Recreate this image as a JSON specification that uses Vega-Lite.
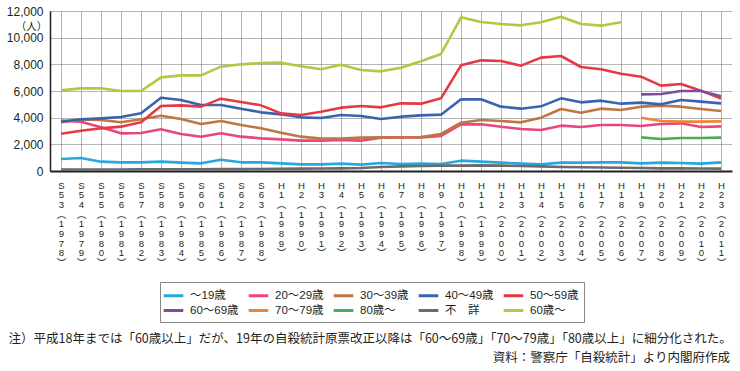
{
"$schema":"https://vega.github.io/schema/vega-lite/v6.json",
"width":682,"height":160,
"autosize":{"type":"none"},
"padding":{"left":50,"top":11,"right":8,"bottom":200},
"background":"#ffffff",
"config":{"view":{"stroke":null},"font":"Noto Sans CJK JP","axis":{"labelColor":"#231f20","titleColor":"#231f20"}},
"title":{"text":"資料：警察庁「自殺統計」より内閣府作成","orient":"bottom","anchor":"end","frame":"group","fontSize":12.5,"fontWeight":"normal","color":"#231f20","offset":7,"dx":-2,"font":"Noto Sans CJK JP"},
"data":{"values":[
{"period":"S53(1978)","group":"〜19歳","value":900},{"period":"S54(1979)","group":"〜19歳","value":975},{"period":"S55(1980)","group":"〜19歳","value":700},{"period":"S56(1981)","group":"〜19歳","value":650},{"period":"S57(1982)","group":"〜19歳","value":650},{"period":"S58(1983)","group":"〜19歳","value":700},{"period":"S59(1984)","group":"〜19歳","value":625},{"period":"S60(1985)","group":"〜19歳","value":575},{"period":"S61(1986)","group":"〜19歳","value":850},{"period":"S62(1987)","group":"〜19歳","value":650},{"period":"S63(1988)","group":"〜19歳","value":650},{"period":"H1(1989)","group":"〜19歳","value":575},{"period":"H2(1990)","group":"〜19歳","value":500},{"period":"H3(1991)","group":"〜19歳","value":500},{"period":"H4(1992)","group":"〜19歳","value":550},{"period":"H5(1993)","group":"〜19歳","value":475},{"period":"H6(1994)","group":"〜19歳","value":600},{"period":"H7(1995)","group":"〜19歳","value":525},{"period":"H8(1996)","group":"〜19歳","value":550},{"period":"H9(1997)","group":"〜19歳","value":525},{"period":"H10(1998)","group":"〜19歳","value":775},{"period":"H11(1999)","group":"〜19歳","value":700},{"period":"H12(2000)","group":"〜19歳","value":625},{"period":"H13(2001)","group":"〜19歳","value":550},{"period":"H14(2002)","group":"〜19歳","value":500},{"period":"H15(2003)","group":"〜19歳","value":625},{"period":"H16(2004)","group":"〜19歳","value":625},{"period":"H17(2005)","group":"〜19歳","value":650},{"period":"H18(2006)","group":"〜19歳","value":650},{"period":"H19(2007)","group":"〜19歳","value":575},{"period":"H20(2008)","group":"〜19歳","value":625},{"period":"H21(2009)","group":"〜19歳","value":600},{"period":"H22(2010)","group":"〜19歳","value":550},{"period":"H23(2011)","group":"〜19歳","value":650},
{"period":"S53(1978)","group":"20〜29歳","value":3775},{"period":"S54(1979)","group":"20〜29歳","value":3700},{"period":"S55(1980)","group":"20〜29歳","value":3275},{"period":"S56(1981)","group":"20〜29歳","value":2825},{"period":"S57(1982)","group":"20〜29歳","value":2850},{"period":"S58(1983)","group":"20〜29歳","value":3125},{"period":"S59(1984)","group":"20〜29歳","value":2775},{"period":"S60(1985)","group":"20〜29歳","value":2575},{"period":"S61(1986)","group":"20〜29歳","value":2825},{"period":"S62(1987)","group":"20〜29歳","value":2575},{"period":"S63(1988)","group":"20〜29歳","value":2450},{"period":"H1(1989)","group":"20〜29歳","value":2375},{"period":"H2(1990)","group":"20〜29歳","value":2275},{"period":"H3(1991)","group":"20〜29歳","value":2275},{"period":"H4(1992)","group":"20〜29歳","value":2325},{"period":"H5(1993)","group":"20〜29歳","value":2275},{"period":"H6(1994)","group":"20〜29歳","value":2500},{"period":"H7(1995)","group":"20〜29歳","value":2525},{"period":"H8(1996)","group":"20〜29歳","value":2525},{"period":"H9(1997)","group":"20〜29歳","value":2625},{"period":"H10(1998)","group":"20〜29歳","value":3500},{"period":"H11(1999)","group":"20〜29歳","value":3500},{"period":"H12(2000)","group":"20〜29歳","value":3325},{"period":"H13(2001)","group":"20〜29歳","value":3150},{"period":"H14(2002)","group":"20〜29歳","value":3075},{"period":"H15(2003)","group":"20〜29歳","value":3400},{"period":"H16(2004)","group":"20〜29歳","value":3300},{"period":"H17(2005)","group":"20〜29歳","value":3450},{"period":"H18(2006)","group":"20〜29歳","value":3450},{"period":"H19(2007)","group":"20〜29歳","value":3375},{"period":"H20(2008)","group":"20〜29歳","value":3525},{"period":"H21(2009)","group":"20〜29歳","value":3575},{"period":"H22(2010)","group":"20〜29歳","value":3300},{"period":"H23(2011)","group":"20〜29歳","value":3350},
{"period":"S53(1978)","group":"30〜39歳","value":3650},{"period":"S54(1979)","group":"30〜39歳","value":3875},{"period":"S55(1980)","group":"30〜39歳","value":3825},{"period":"S56(1981)","group":"30〜39歳","value":3650},{"period":"S57(1982)","group":"30〜39歳","value":3875},{"period":"S58(1983)","group":"30〜39歳","value":4150},{"period":"S59(1984)","group":"30〜39歳","value":3900},{"period":"S60(1985)","group":"30〜39歳","value":3525},{"period":"S61(1986)","group":"30〜39歳","value":3750},{"period":"S62(1987)","group":"30〜39歳","value":3450},{"period":"S63(1988)","group":"30〜39歳","value":3200},{"period":"H1(1989)","group":"30〜39歳","value":2875},{"period":"H2(1990)","group":"30〜39歳","value":2575},{"period":"H3(1991)","group":"30〜39歳","value":2425},{"period":"H4(1992)","group":"30〜39歳","value":2425},{"period":"H5(1993)","group":"30〜39歳","value":2500},{"period":"H6(1994)","group":"30〜39歳","value":2525},{"period":"H7(1995)","group":"30〜39歳","value":2525},{"period":"H8(1996)","group":"30〜39歳","value":2550},{"period":"H9(1997)","group":"30〜39歳","value":2775},{"period":"H10(1998)","group":"30〜39歳","value":3625},{"period":"H11(1999)","group":"30〜39歳","value":3825},{"period":"H12(2000)","group":"30〜39歳","value":3750},{"period":"H13(2001)","group":"30〜39歳","value":3650},{"period":"H14(2002)","group":"30〜39歳","value":4000},{"period":"H15(2003)","group":"30〜39歳","value":4650},{"period":"H16(2004)","group":"30〜39歳","value":4375},{"period":"H17(2005)","group":"30〜39歳","value":4675},{"period":"H18(2006)","group":"30〜39歳","value":4575},{"period":"H19(2007)","group":"30〜39歳","value":4825},{"period":"H20(2008)","group":"30〜39歳","value":4900},{"period":"H21(2009)","group":"30〜39歳","value":4825},{"period":"H22(2010)","group":"30〜39歳","value":4650},{"period":"H23(2011)","group":"30〜39歳","value":4500},
{"period":"S53(1978)","group":"40〜49歳","value":3700},{"period":"S54(1979)","group":"40〜49歳","value":3875},{"period":"S55(1980)","group":"40〜49歳","value":3950},{"period":"S56(1981)","group":"40〜49歳","value":4050},{"period":"S57(1982)","group":"40〜49歳","value":4325},{"period":"S58(1983)","group":"40〜49歳","value":5500},{"period":"S59(1984)","group":"40〜49歳","value":5325},{"period":"S60(1985)","group":"40〜49歳","value":4950},{"period":"S61(1986)","group":"40〜49歳","value":4950},{"period":"S62(1987)","group":"40〜49歳","value":4675},{"period":"S63(1988)","group":"40〜49歳","value":4400},{"period":"H1(1989)","group":"40〜49歳","value":4250},{"period":"H2(1990)","group":"40〜49歳","value":4025},{"period":"H3(1991)","group":"40〜49歳","value":3975},{"period":"H4(1992)","group":"40〜49歳","value":4200},{"period":"H5(1993)","group":"40〜49歳","value":4125},{"period":"H6(1994)","group":"40〜49歳","value":3900},{"period":"H7(1995)","group":"40〜49歳","value":4075},{"period":"H8(1996)","group":"40〜49歳","value":4175},{"period":"H9(1997)","group":"40〜49歳","value":4225},{"period":"H10(1998)","group":"40〜49歳","value":5375},{"period":"H11(1999)","group":"40〜49歳","value":5375},{"period":"H12(2000)","group":"40〜49歳","value":4825},{"period":"H13(2001)","group":"40〜49歳","value":4675},{"period":"H14(2002)","group":"40〜49歳","value":4850},{"period":"H15(2003)","group":"40〜49歳","value":5450},{"period":"H16(2004)","group":"40〜49歳","value":5150},{"period":"H17(2005)","group":"40〜49歳","value":5275},{"period":"H18(2006)","group":"40〜49歳","value":5050},{"period":"H19(2007)","group":"40〜49歳","value":5125},{"period":"H20(2008)","group":"40〜49歳","value":5000},{"period":"H21(2009)","group":"40〜49歳","value":5325},{"period":"H22(2010)","group":"40〜49歳","value":5200},{"period":"H23(2011)","group":"40〜49歳","value":5075},
{"period":"S53(1978)","group":"50〜59歳","value":2800},{"period":"S54(1979)","group":"50〜59歳","value":3025},{"period":"S55(1980)","group":"50〜59歳","value":3200},{"period":"S56(1981)","group":"50〜59歳","value":3325},{"period":"S57(1982)","group":"50〜59歳","value":3650},{"period":"S58(1983)","group":"50〜59歳","value":4875},{"period":"S59(1984)","group":"50〜59歳","value":4925},{"period":"S60(1985)","group":"50〜59歳","value":4825},{"period":"S61(1986)","group":"50〜59歳","value":5425},{"period":"S62(1987)","group":"50〜59歳","value":5175},{"period":"S63(1988)","group":"50〜59歳","value":4925},{"period":"H1(1989)","group":"50〜59歳","value":4325},{"period":"H2(1990)","group":"50〜59歳","value":4200},{"period":"H3(1991)","group":"50〜59歳","value":4450},{"period":"H4(1992)","group":"50〜59歳","value":4750},{"period":"H5(1993)","group":"50〜59歳","value":4875},{"period":"H6(1994)","group":"50〜59歳","value":4775},{"period":"H7(1995)","group":"50〜59歳","value":5075},{"period":"H8(1996)","group":"50〜59歳","value":5050},{"period":"H9(1997)","group":"50〜59歳","value":5450},{"period":"H10(1998)","group":"50〜59歳","value":7925},{"period":"H11(1999)","group":"50〜59歳","value":8300},{"period":"H12(2000)","group":"50〜59歳","value":8250},{"period":"H13(2001)","group":"50〜59歳","value":7900},{"period":"H14(2002)","group":"50〜59歳","value":8500},{"period":"H15(2003)","group":"50〜59歳","value":8625},{"period":"H16(2004)","group":"50〜59歳","value":7800},{"period":"H17(2005)","group":"50〜59歳","value":7625},{"period":"H18(2006)","group":"50〜59歳","value":7300},{"period":"H19(2007)","group":"50〜59歳","value":7075},{"period":"H20(2008)","group":"50〜59歳","value":6400},{"period":"H21(2009)","group":"50〜59歳","value":6525},{"period":"H22(2010)","group":"50〜59歳","value":6025},{"period":"H23(2011)","group":"50〜59歳","value":5425},
{"period":"H19(2007)","group":"60〜69歳","value":5750},{"period":"H20(2008)","group":"60〜69歳","value":5775},{"period":"H21(2009)","group":"60〜69歳","value":6000},{"period":"H22(2010)","group":"60〜69歳","value":6000},{"period":"H23(2011)","group":"60〜69歳","value":5600},
{"period":"H19(2007)","group":"70〜79歳","value":4000},{"period":"H20(2008)","group":"70〜79歳","value":3750},{"period":"H21(2009)","group":"70〜79歳","value":3700},{"period":"H22(2010)","group":"70〜79歳","value":3700},{"period":"H23(2011)","group":"70〜79歳","value":3725},
{"period":"H19(2007)","group":"80歳〜","value":2525},{"period":"H20(2008)","group":"80歳〜","value":2400},{"period":"H21(2009)","group":"80歳〜","value":2475},{"period":"H22(2010)","group":"80歳〜","value":2475},{"period":"H23(2011)","group":"80歳〜","value":2500},
{"period":"S53(1978)","group":"不　詳","value":100},{"period":"S54(1979)","group":"不　詳","value":110},{"period":"S55(1980)","group":"不　詳","value":110},{"period":"S56(1981)","group":"不　詳","value":110},{"period":"S57(1982)","group":"不　詳","value":120},{"period":"S58(1983)","group":"不　詳","value":130},{"period":"S59(1984)","group":"不　詳","value":130},{"period":"S60(1985)","group":"不　詳","value":130},{"period":"S61(1986)","group":"不　詳","value":140},{"period":"S62(1987)","group":"不　詳","value":140},{"period":"S63(1988)","group":"不　詳","value":150},{"period":"H1(1989)","group":"不　詳","value":170},{"period":"H2(1990)","group":"不　詳","value":180},{"period":"H3(1991)","group":"不　詳","value":190},{"period":"H4(1992)","group":"不　詳","value":200},{"period":"H5(1993)","group":"不　詳","value":220},{"period":"H6(1994)","group":"不　詳","value":300},{"period":"H7(1995)","group":"不　詳","value":350},{"period":"H8(1996)","group":"不　詳","value":380},{"period":"H9(1997)","group":"不　詳","value":400},{"period":"H10(1998)","group":"不　詳","value":400},{"period":"H11(1999)","group":"不　詳","value":420},{"period":"H12(2000)","group":"不　詳","value":400},{"period":"H13(2001)","group":"不　詳","value":380},{"period":"H14(2002)","group":"不　詳","value":350},{"period":"H15(2003)","group":"不　詳","value":300},{"period":"H16(2004)","group":"不　詳","value":280},{"period":"H17(2005)","group":"不　詳","value":260},{"period":"H18(2006)","group":"不　詳","value":240},{"period":"H19(2007)","group":"不　詳","value":220},{"period":"H20(2008)","group":"不　詳","value":200},{"period":"H21(2009)","group":"不　詳","value":200},{"period":"H22(2010)","group":"不　詳","value":190},{"period":"H23(2011)","group":"不　詳","value":180},
{"period":"S53(1978)","group":"60歳〜","value":6050},{"period":"S54(1979)","group":"60歳〜","value":6200},{"period":"S55(1980)","group":"60歳〜","value":6200},{"period":"S56(1981)","group":"60歳〜","value":6000},{"period":"S57(1982)","group":"60歳〜","value":6000},{"period":"S58(1983)","group":"60歳〜","value":7025},{"period":"S59(1984)","group":"60歳〜","value":7175},{"period":"S60(1985)","group":"60歳〜","value":7175},{"period":"S61(1986)","group":"60歳〜","value":7825},{"period":"S62(1987)","group":"60歳〜","value":8000},{"period":"S63(1988)","group":"60歳〜","value":8100},{"period":"H1(1989)","group":"60歳〜","value":8125},{"period":"H2(1990)","group":"60歳〜","value":7850},{"period":"H3(1991)","group":"60歳〜","value":7625},{"period":"H4(1992)","group":"60歳〜","value":7975},{"period":"H5(1993)","group":"60歳〜","value":7575},{"period":"H6(1994)","group":"60歳〜","value":7475},{"period":"H7(1995)","group":"60歳〜","value":7750},{"period":"H8(1996)","group":"60歳〜","value":8225},{"period":"H9(1997)","group":"60歳〜","value":8775},{"period":"H10(1998)","group":"60歳〜","value":11525},{"period":"H11(1999)","group":"60歳〜","value":11175},{"period":"H12(2000)","group":"60歳〜","value":11025},{"period":"H13(2001)","group":"60歳〜","value":10925},{"period":"H14(2002)","group":"60歳〜","value":11150},{"period":"H15(2003)","group":"60歳〜","value":11575},{"period":"H16(2004)","group":"60歳〜","value":11025},{"period":"H17(2005)","group":"60歳〜","value":10900},{"period":"H18(2006)","group":"60歳〜","value":11150}
]},
"mark":{"type":"line","strokeWidth":2.6,"strokeJoin":"round"},
"encoding":{
"x":{"field":"period","type":"ordinal","sort":null,"scale":{"type":"point","padding":0.55},
"axis":{"title":"注）平成18年までは「60歳以上」だが、19年の自殺統計原票改正以降は「60〜69歳」「70〜79歳」「80歳以上」に細分化された。","titleX":-42,"titleY":167,"titleAlign":"left","titleBaseline":"middle","titleFontSize":12.5,"titleFontWeight":"normal","titleFont":"Noto Sans CJK JP",
"labelAngle":0,"labelAlign":"center","labelBaseline":"top","labelPadding":9,"labelFontSize":9.6,"labelLineHeight":9.7,"labelFont":"Liberation Sans, Noto Sans CJK JP","labelOverlap":false,
"labelExpr":"split(slice(slice(datum.value,0,indexof(datum.value,'('))+'   ',0,3)+'︵'+slice(datum.value,-5,-1)+'︶','')",
"ticks":false,"domainColor":"#231f20","domainWidth":2,"grid":true,"gridColor":"#6b6b6b","gridDash":[1,1],"gridWidth":1}},
"y":{"field":"value","type":"quantitative","scale":{"domain":[0,12000],"nice":false},
"axis":{"values":[0,2000,4000,6000,8000,10000,12000],"format":",d","title":"（人）","titleAngle":0,"titleX":-19,"titleY":15,"titleAlign":"center","titleBaseline":"middle","titleFontSize":10.5,"titleFontWeight":"normal","titleFont":"Noto Sans CJK JP",
"labelFontSize":12,"labelPadding":7,"labelFont":"Liberation Sans","ticks":false,"domainColor":"#231f20","domainWidth":1.5,"grid":true,"gridColor":"#6b6b6b","gridDash":[1,1],"gridWidth":1}},
"color":{"field":"group","type":"nominal",
"scale":{"domain":["〜19歳","20〜29歳","30〜39歳","40〜49歳","50〜59歳","60〜69歳","70〜79歳","80歳〜","不　詳","60歳〜"],
"range":["#2aa6df","#e8467f","#bf7643","#3a63ad","#e53a45","#7a4ea2","#ef8637","#4dac53","#6b6b6b","#b6c642"]},
"legend":{"title":null,"orient":"none","legendX":110,"legendY":271,"columns":5,"direction":"horizontal","symbolType":"M-1.4,0H1.4","symbolSize":196,"symbolStrokeWidth":3,"symbolFillColor":"transparent","labelFontSize":11.5,"labelFont":"Liberation Sans, Noto Sans CJK JP","labelOffset":8,"labelColor":"#231f20","columnPadding":3,"rowPadding":0,"padding":5,"strokeColor":"#888888","fillColor":"#ffffff"}}
}
}
